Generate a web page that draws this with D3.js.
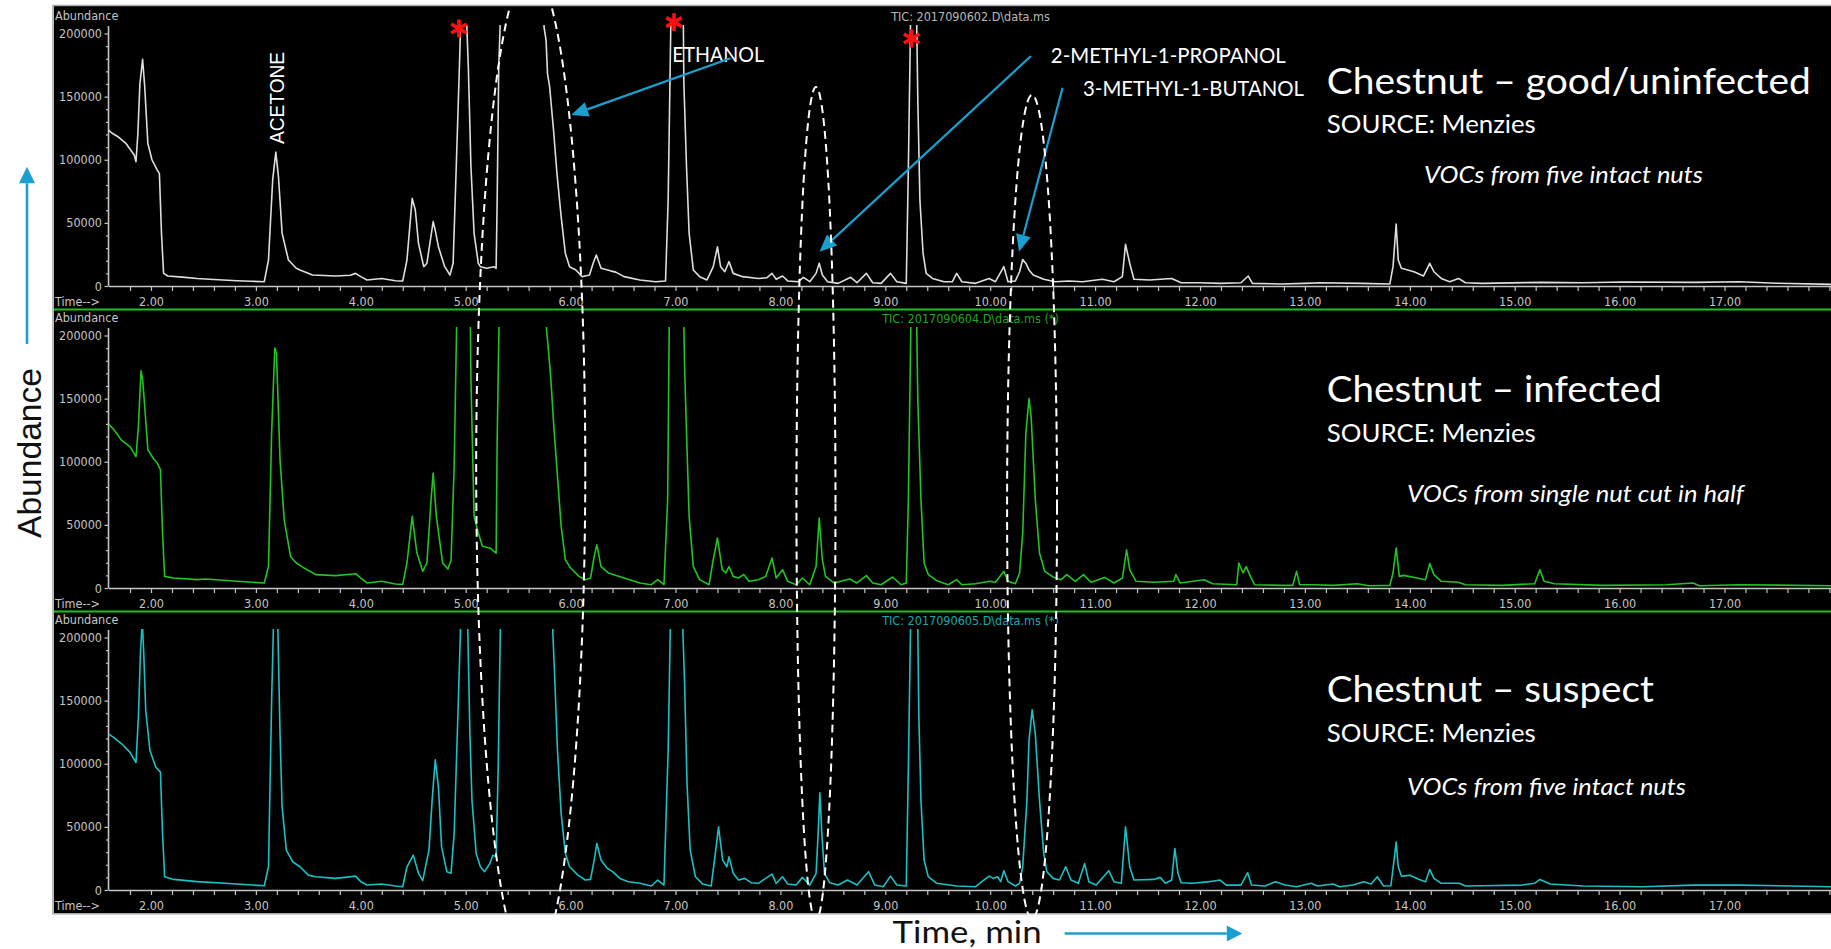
<!DOCTYPE html>
<html>
<head>
<meta charset="utf-8">
<title>Chestnut VOC chromatograms</title>
<script src="https://cdn.jsdelivr.net/npm/d3@7"></script>
<style>
  html, body { margin: 0; padding: 0; background: #fff; }
  svg { display: block; }
</style>
</head>
<body>
<svg id="chart" width="1831" height="949"></svg>
<script>
// ---------------- data ----------------
// Retention time (min) tick labels and abundance tick labels
const timeTicks = [2, 3, 4, 5, 6, 7, 8, 9, 10, 11, 12, 13, 14, 15, 16, 17];
const abundanceTicks = [0, 50000, 100000, 150000, 200000];

const runFiles = [
  "TIC: 2017090602.D\\data.ms",
  "TIC: 2017090604.D\\data.ms (*)",
  "TIC: 2017090605.D\\data.ms (*)"
];
const sampleTitles = ["Chestnut \u2013 good/uninfected", "Chestnut \u2013 infected", "Chestnut \u2013 suspect"];
const sampleSources = ["SOURCE: Menzies", "SOURCE: Menzies", "SOURCE: Menzies"];
const sampleNotes = ["VOCs from five intact nuts", "VOCs from single nut cut in half", "VOCs from five intact nuts"];

// Total ion chromatograms: [retention time (min), abundance]
const goodTrace = [
  [1.595,123500],[1.63,121000],[1.69,118000],[1.76,113000],[1.84,103700],[1.857,98400],[1.875,121000],[1.894,160000],[1.92,179500],[1.94,158000],[1.97,113000],[2.01,99800],[2.06,91800],[2.08,89000],[2.10,41700],[2.12,10000],[2.16,7900],[2.30,7000],[2.44,6000],[2.60,5200],[2.82,4200],[2.95,3800],[3.08,3400],
  [3.12,20600],[3.16,84000],[3.19,106000],[3.215,86600],[3.25,41700],[3.31,20600],[3.385,14000],[3.42,12700],[3.54,8700],[3.76,7900],[3.90,8500],[3.95,10000],[4.0,7400],[4.06,4800],[4.2,6000],[4.33,4200],[4.40,4000],
  [4.44,20600],[4.49,69400],[4.52,60000],[4.55,33800],[4.60,15300],[4.63,18000],[4.69,51000],[4.71,44000],[4.74,31000],[4.80,15300],[4.85,8700],[4.88,18000],[4.91,94500],[4.94,173600],[4.951,205000],[4.98,1500000],[5.011,205000],[5.025,173600],[5.05,94500],[5.08,41700],[5.12,18000],[5.14,15300],[5.20,14000],[5.27,15300],[5.29,14000],
  [5.30,68000],[5.315,173000],[5.328,205000],[5.54,5000000],[5.747,205000],[5.766,194800],[5.78,168000],[5.80,158000],[5.84,121000],[5.87,89000],[5.91,55000],[5.95,25900],[5.99,15300],[6.05,12700],[6.11,7400],[6.18,8700],[6.215,18000],[6.245,24500],[6.29,14000],[6.38,12000],[6.43,11000],[6.51,7400],[6.66,4800],[6.81,3400],[6.905,3900],
  [6.93,68000],[6.955,205000],[7.015,2000000],[7.075,205000],[7.08,160000],[7.105,94500],[7.13,41700],[7.17,12700],[7.23,7400],[7.30,4800],
  [7.36,15300],[7.40,31000],[7.43,15300],[7.47,11300],[7.51,19300],[7.55,10000],[7.64,7400],[7.79,6000],[7.87,6500],[7.92,10000],[7.96,5300],[8.02,7900],[8.07,4000],[8.17,3400],[8.22,6900],[8.28,3400],
  [8.34,10000],[8.37,18000],[8.40,8700],[8.45,3400],[8.55,2100],[8.67,6900],[8.73,2600],[8.82,10000],[8.88,2600],[8.96,2100],[9.05,10000],[9.11,3400],[9.20,2100],
  [9.22,94500],[9.24,205000],[9.27,3000000],[9.30,205000],[9.31,147000],[9.33,68000],[9.36,25900],[9.39,10000],[9.45,6000],[9.56,3400],[9.64,3400],[9.68,10000],[9.73,3400],[9.86,2100],[9.99,6000],[10.05,3400],[10.13,15300],[10.17,3400],[10.24,4000],
  [10.28,11300],[10.31,21000],[10.34,17900],[10.37,12700],[10.41,8700],[10.51,5300],[10.62,3400],[10.75,4000],[10.88,3400],[11.07,5300],[11.18,3400],[11.26,7400],[11.29,33000],[11.33,18000],[11.37,5300],[11.52,4800],[11.73,6000],[11.82,2600],[12.0,2600],[12.19,2100],[12.39,2600],[12.46,7900],[12.5,2100],[12.77,1600],[13.0,2100],[13.15,2600],[13.54,2100],[13.81,1600],
  [13.84,15300],[13.87,49000],[13.89,20600],[13.92,14000],[14.04,11300],[14.13,7900],[14.19,18000],[14.23,11300],[14.30,6000],[14.38,3400],[14.465,6000],[14.53,2600],[14.69,2100],[15.26,2900],[15.65,2600],[16.03,3200],[16.72,2900],[17.14,3400],[17.5,2200],[18.02,1300]
];

const infectedTrace = [
  [1.595,130000],[1.65,125000],[1.72,117000],[1.80,112000],[1.857,104000],[1.88,128000],[1.905,172000],[1.92,165000],[1.94,144000],[1.97,109500],[2.03,101600],[2.06,99000],[2.09,93700],[2.11,43500],[2.13,9200],[2.215,7900],[2.44,6600],[2.52,7100],[2.82,5300],[3.08,4000],
  [3.12,17000],[3.15,122700],[3.18,190000],[3.196,186000],[3.23,101600],[3.27,54000],[3.33,25000],[3.385,19800],[3.46,15800],[3.57,10600],[3.76,9800],[3.95,11300],[4.0,7900],[4.06,4000],[4.2,5300],[4.33,3200],[4.40,2900],
  [4.44,19800],[4.49,56700],[4.535,27700],[4.59,13200],[4.63,19800],[4.67,70000],[4.69,91000],[4.72,56700],[4.78,19800],[4.83,15000],[4.86,22000],[4.89,96000],[4.913,205000],[4.98,1200000],[5.045,205000],[5.05,165000],[5.08,56700],[5.12,43500],[5.16,33000],[5.23,31700],[5.29,27700],
  [5.30,117000],[5.317,205000],[5.54,6000000],[5.77,205000],[5.78,196600],[5.81,167600],[5.84,128000],[5.875,88400],[5.91,48800],[5.95,22400],[6.0,15800],[6.08,9200],[6.14,6600],[6.19,7900],[6.225,25000],[6.25,34300],[6.29,17000],[6.36,11900],[6.51,7900],[6.66,4000],[6.77,2600],[6.83,6600],[6.89,2600],
  [6.925,70000],[6.94,205000],[7.01,2500000],[7.08,205000],[7.087,175000],[7.105,122700],[7.13,56700],[7.17,17000],[7.23,6600],[7.32,2600],
  [7.36,22400],[7.40,39600],[7.445,14500],[7.48,11900],[7.51,17000],[7.55,9200],[7.60,7900],[7.65,10600],[7.70,5300],[7.79,6600],[7.86,9200],[7.92,23800],[7.96,7900],[8.02,14500],[8.07,5300],[8.15,2600],[8.21,7900],[8.28,2600],
  [8.34,17000],[8.37,55400],[8.40,22400],[8.43,9200],[8.51,4000],[8.66,7100],[8.73,4000],[8.82,9800],[8.88,4000],[8.96,2600],[9.07,8700],[9.15,2600],[9.20,4000],
  [9.22,70000],[9.243,205000],[9.27,3000000],[9.30,205000],[9.31,149000],[9.34,70000],[9.37,19800],[9.41,10600],[9.49,5800],[9.60,2600],[9.68,6600],[9.73,2600],[9.86,3400],[9.996,5300],[10.05,4500],[10.13,13200],[10.17,5300],[10.24,3400],
  [10.28,11900],[10.31,43500],[10.34,122700],[10.37,150000],[10.39,136000],[10.43,70000],[10.47,27700],[10.52,13200],[10.60,8700],[10.675,6600],[10.73,10600],[10.81,5300],[10.89,10600],[10.96,4500],[11.09,8400],[11.18,4000],[11.26,7900],[11.30,30300],[11.33,14500],[11.39,5300],[11.56,4500],[11.75,5300],[11.77,10600],[11.81,4000],[12.04,6600],[12.12,3400],[12.35,2600],
  [12.37,19800],[12.41,11900],[12.44,17000],[12.48,9200],[12.52,2600],[12.77,2100],[12.885,2100],[12.92,13200],[12.95,2600],[13.08,2600],[13.27,2100],[13.50,3400],[13.61,1800],[13.81,2100],
  [13.84,11900],[13.87,31700],[13.90,9200],[13.94,10000],[14.07,7900],[14.15,6600],[14.19,19300],[14.23,10600],[14.30,5300],[14.46,4500],[14.53,2600],[14.88,2100],[15.19,3400],[15.24,14500],[15.28,5300],[15.38,3400],[15.84,2100],[16.45,2600],[16.70,4000],[16.76,1800],[17.14,2600],[18.02,1800]
];

const suspectTrace = [
  [1.595,123700],[1.65,120500],[1.72,115800],[1.80,109000],[1.857,101000],[1.88,137000],[1.90,189500],[1.917,212000],[1.93,189500],[1.95,142000],[1.99,110500],[2.045,97400],[2.09,93400],[2.11,44700],[2.13,10500],[2.215,8400],[2.44,6600],[2.82,4700],[3.08,3400],
  [3.12,18400],[3.15,150000],[3.166,205000],[3.19,1000000],[3.21,205000],[3.23,123700],[3.25,65800],[3.29,31600],[3.35,22400],[3.42,18400],[3.50,11800],[3.57,10500],[3.76,9200],[3.95,11000],[4.0,6600],[4.06,4000],[4.2,4700],[4.33,3200],[4.40,2600],
  [4.44,18400],[4.50,27600],[4.55,13200],[4.59,7400],[4.65,31600],[4.68,71000],[4.71,103200],[4.74,81600],[4.77,34200],[4.82,14500],[4.86,13200],[4.89,44700],[4.93,150000],[4.95,205000],[4.985,2500000],[5.02,205000],[5.04,123700],[5.06,71000],[5.10,28900],[5.14,18400],[5.18,14500],[5.23,21000],[5.26,27600],[5.29,26300],
  [5.31,97400],[5.33,205000],[5.58,6000000],[5.83,205000],[5.845,176000],[5.875,110500],[5.91,60500],[5.95,29000],[5.99,18400],[6.07,11800],[6.14,7900],[6.19,8400],[6.225,23700],[6.25,36800],[6.29,23700],[6.35,17100],[6.40,14500],[6.47,9200],[6.55,6600],[6.66,5300],[6.77,3200],[6.83,7900],[6.89,3900],
  [6.93,110500],[6.95,205000],[7.01,2500000],[7.07,205000],[7.087,163000],[7.11,84000],[7.14,31600],[7.19,10500],[7.26,4700],[7.34,3200],
  [7.38,29000],[7.41,50000],[7.45,23700],[7.49,18400],[7.51,26300],[7.55,13200],[7.60,7900],[7.66,9200],[7.72,5800],[7.79,5300],[7.92,12600],[7.96,5300],[8.02,10500],[8.07,4700],[8.15,3900],[8.21,10000],[8.28,3900],
  [8.34,13200],[8.36,44700],[8.376,77000],[8.395,44700],[8.42,13200],[8.47,5800],[8.55,3900],[8.64,7900],[8.73,3900],[8.84,14500],[8.90,3900],[8.98,2600],[9.05,11000],[9.11,3900],[9.20,3200],
  [9.22,97400],[9.24,205000],[9.275,3000000],[9.31,205000],[9.32,137000],[9.34,71000],[9.37,23700],[9.41,10500],[9.49,5300],[9.68,3200],[9.86,2600],[9.92,6600],[9.99,11000],[10.03,9200],[10.07,10500],[10.10,6600],[10.13,15300],[10.17,6600],[10.24,3200],
  [10.28,5300],[10.31,18400],[10.35,71000],[10.37,118400],[10.40,142700],[10.43,123700],[10.47,71000],[10.51,29000],[10.54,14500],[10.60,9200],[10.66,7900],[10.72,18400],[10.77,7900],[10.84,5300],[10.90,21000],[10.94,6600],[11.01,3900],[11.13,15300],[11.18,6600],[11.25,5300],
  [11.29,50000],[11.33,18400],[11.37,7900],[11.56,8400],[11.62,10000],[11.67,5300],[11.73,7900],[11.76,32900],[11.79,13200],[11.82,5800],[11.93,5300],[12.09,6600],[12.19,7900],[12.25,3900],[12.39,3900],[12.455,13700],[12.49,3900],[12.62,3200],[12.72,6600],[12.81,3900],[12.92,2600],[13.06,5300],[13.12,3200],[13.27,4700],[13.33,2600],[13.46,3900],[13.56,6600],[13.63,4700],[13.69,10500],[13.75,3200],[13.82,3400],
  [13.85,23700],[13.87,37900],[13.89,18400],[13.92,11000],[14.0,11600],[14.09,8400],[14.15,6600],[14.19,16300],[14.23,9200],[14.30,5300],[14.47,5300],[14.53,3200],[14.69,3400],[15.07,3900],[15.19,5300],[15.24,8400],[15.34,4700],[15.65,3200],[16.22,2600],[16.70,3900],[17.14,3900],[18.02,2600]
];

// Compound annotations on the first run: [time, abundance] anchors
const compoundNames = ["ACETONE", "ETHANOL", "2-METHYL-1-PROPANOL", "3-METHYL-1-BUTANOL"];
const compoundLabelAt = [[3.268, 112500], [6.968, 177700], [10.578, 176400], [10.885, 150700]];
const compoundArrowFrom = [null, [7.524, 180400], [10.389, 182200], [10.69, 157000]];
const compoundArrowTo = [null, [6.006, 135400], [8.373, 27200], [10.275, 27200]];
// Peaks flagged with a red asterisk on the first run
const flaggedPeaks = [[4.936, 204000], [6.986, 209000], [9.251, 196000]];
// Retention-time windows circled across all three runs: [centre, half-width] in minutes
const circledWindows = [[5.62, 0.52], [8.339, 0.186], [10.399, 0.238]];

// ---------------- layout ----------------
const svg = d3.select("#chart");
const frame = { x0: 54, y0: 6, x1: 1831, y1: 913 };
const panelTops = [6, 308, 610];
const traceColors = ["#dedede", "#22c322", "#1cc0c4"];
const ticColors = ["#b8b8b8", "#1ea81e", "#17a8ae"];
const axisColor = "#c4c4c4";
const blue = "#1aa0cf";
const uiFont = "'Liberation Sans Narrow','Arial Narrow','DejaVu Sans Condensed',sans-serif";
const textFont = "Lato,'Open Sans',sans-serif";

const x = d3.scaleLinear().domain([2, 17]).range([151, 1724.5]);
const tStart = 1.595, tEnd = 18.02;
const xAxisScale = x.copy().domain([tStart, tEnd]).range([x(tStart), x(tEnd)]);
const yAxisX = x(tStart);

// white page, black instrument canvas with grey frame
svg.append("rect").attr("width", 1831).attr("height", 949).attr("fill", "#fff");
svg.append("rect")
  .attr("x", frame.x0).attr("y", frame.y0)
  .attr("width", frame.x1 - frame.x0).attr("height", frame.y1 - frame.y0)
  .attr("fill", "#000");
svg.append("path")
  .attr("d", `M${frame.x1},${frame.y0 - 0.5}H${frame.x0 - 1}V${frame.y1 + 0.8}H${frame.x1}`)
  .attr("fill", "none").attr("stroke", "#a9a9a9").attr("stroke-width", 1.6);

const traces = [goodTrace, infectedTrace, suspectTrace];

panelTops.forEach((T, i) => {
  const y = d3.scaleLinear().domain([0, 200000]).range([T + 280, T + 27.5]);
  const g = svg.append("g");

  // header texts
  g.append("text").attr("x", 55).attr("y", T + 14)
    .attr("font-family", uiFont).attr("font-size", 12.5).attr("fill", axisColor)
    .text("Abundance");
  g.append("text").attr("x", 970.5).attr("y", T + 15)
    .attr("text-anchor", "middle")
    .attr("font-family", uiFont).attr("font-size", 12.5).attr("fill", ticColors[i])
    .text(runFiles[i]);

  // y axis
  const yAxis = d3.axisLeft(y)
    .tickValues(d3.range(0, 200001, 10000))
    .tickSize(4).tickSizeOuter(0).tickPadding(2.5)
    .tickFormat(v => (v % 50000 === 0 && abundanceTicks.includes(v)) ? String(v) : "");
  const ya = g.append("g").attr("transform", `translate(${yAxisX},0)`).call(yAxis);
  ya.select(".domain").remove();
  ya.selectAll(".tick line").attr("stroke", axisColor).attr("stroke-width", 1.2)
    .attr("x2", v => v % 50000 === 0 ? -4 : -2.5);
  ya.selectAll(".tick text").attr("fill", axisColor)
    .attr("font-family", uiFont).attr("font-size", 12.5);
  g.append("line").attr("x1", yAxisX).attr("x2", yAxisX)
    .attr("y1", T + 20).attr("y2", T + 280)
    .attr("stroke", axisColor).attr("stroke-width", 1.6);

  // x axis
  const minorTimes = d3.range(9, 91).map(k => k / 5);
  const xAxis = d3.axisBottom(xAxisScale)
    .tickValues(minorTimes).tickSize(5).tickSizeOuter(0).tickPadding(6)
    .tickFormat(t => timeTicks.includes(Math.round(t)) && Math.abs(t - Math.round(t)) < 1e-6 ? d3.format(".2f")(t) : "");
  const xa = g.append("g").attr("transform", `translate(0,${T + 280})`).call(xAxis);
  xa.select(".domain").attr("stroke", axisColor).attr("stroke-width", 1.6);
  xa.selectAll(".tick line").attr("stroke", axisColor).attr("stroke-width", 1.2);
  xa.selectAll(".tick text").attr("fill", axisColor)
    .attr("font-family", uiFont).attr("font-size", 12.5);
  g.append("text").attr("x", 55).attr("y", T + 299.5)
    .attr("font-family", uiFont).attr("font-size", 12.5).attr("fill", axisColor)
    .text("Time-->");

  // chromatogram trace
  const clipId = "clip" + i;
  svg.append("clipPath").attr("id", clipId).append("rect")
    .attr("x", yAxisX).attr("y", T + 19)
    .attr("width", frame.x1 - yAxisX).attr("height", 275);
  g.append("path")
    .datum(traces[i])
    .attr("clip-path", `url(#${clipId})`)
    .attr("fill", "none")
    .attr("stroke", traceColors[i])
    .attr("stroke-width", 1.6)
    .attr("stroke-linejoin", "round")
    .attr("d", d3.line().x(d => x(d[0])).y(d => y(d[1])));

  // sample description
  const titleBase = [93.5, 401.7, 701.7][i];
  const sourceBase = [133, 441.5, 741.5][i];
  const noteBase = [183, 501.7, 795][i];
  const noteX = [1424, 1407, 1407][i];
  const titleLen = [484, 335, 327][i];
  const noteLen = [279, 337, 279][i];
  g.append("text").attr("x", 1326.8).attr("y", titleBase)
    .attr("font-family", textFont).attr("font-size", 37).attr("fill", "#fff")
    .attr("textLength", titleLen).attr("lengthAdjust", "spacingAndGlyphs")
    .text(sampleTitles[i]);
  g.append("text").attr("x", 1326.8).attr("y", sourceBase)
    .attr("font-family", textFont).attr("font-size", 25.5).attr("fill", "#fff")
    .attr("textLength", 209).attr("lengthAdjust", "spacingAndGlyphs")
    .text(sampleSources[i]);
  g.append("text").attr("x", noteX).attr("y", noteBase)
    .attr("font-family", textFont).attr("font-style", "italic").attr("font-size", 24)
    .attr("fill", "#fff")
    .attr("textLength", noteLen).attr("lengthAdjust", "spacingAndGlyphs")
    .text(sampleNotes[i]);

  // separator to the next run
  if (i < panelTops.length - 1) {
    svg.append("line").attr("x1", frame.x0).attr("x2", frame.x1)
      .attr("y1", T + 303.5).attr("y2", T + 303.5)
      .attr("stroke", "#1ec01e").attr("stroke-width", 1.8);
  }
});

// ---------------- annotations on the first run ----------------
const y0 = d3.scaleLinear().domain([0, 200000]).range([panelTops[0] + 280, panelTops[0] + 27.5]);
const ann = svg.append("g");

function arrow(sel, x1, y1, x2, y2, color, width, headLen, headHalf) {
  const ang = Math.atan2(y2 - y1, x2 - x1);
  const bx = x2 - headLen * Math.cos(ang), by = y2 - headLen * Math.sin(ang);
  sel.append("line").attr("x1", x1).attr("y1", y1).attr("x2", bx).attr("y2", by)
    .attr("stroke", color).attr("stroke-width", width);
  const nx = -Math.sin(ang) * headHalf, ny = Math.cos(ang) * headHalf;
  sel.append("path")
    .attr("d", `M${x2},${y2}L${bx + nx},${by + ny}L${bx - nx},${by - ny}Z`)
    .attr("fill", color);
}

compoundNames.forEach((name, k) => {
  const [lt, lv] = compoundLabelAt[k];
  if (k === 0) {
    ann.append("text")
      .attr("transform", `translate(${x(lt)},${y0(lv)}) rotate(-90)`)
      .attr("font-family", "'Liberation Sans',Arial,sans-serif").attr("font-size", 21)
      .attr("fill", "#fff")
      .attr("textLength", 92).attr("lengthAdjust", "spacingAndGlyphs")
      .text(name);
  } else {
    const len = [0, 92, 235, 221][k];
    ann.append("text").attr("x", x(lt)).attr("y", y0(lv))
      .attr("font-family", textFont).attr("font-size", 21).attr("fill", "#fff")
      .attr("textLength", len).attr("lengthAdjust", "spacingAndGlyphs")
      .text(name);
    const [ft, fv] = compoundArrowFrom[k];
    const [tt, tv] = compoundArrowTo[k];
    arrow(ann, x(ft), y0(fv), x(tt), y0(tv), blue, 2.2, 17, 7.5);
  }
});

// red asterisks on flagged peaks
flaggedPeaks.forEach(([t, v]) => {
  const cx = x(t), cy = y0(v), r = 9;
  const p = d3.path();
  [90, 30, 150].forEach(a => {
    const rad = a * Math.PI / 180;
    p.moveTo(cx + r * Math.cos(rad), cy - r * Math.sin(rad));
    p.lineTo(cx - r * Math.cos(rad), cy + r * Math.sin(rad));
  });
  ann.append("path").attr("d", p.toString())
    .attr("stroke", "#ff1010").attr("stroke-width", 3.6).attr("fill", "none");
});

// dashed ellipses marking retention-time windows across all runs
const windowSpans = [[-31, 968], [87, 920], [95, 919]];
svg.append("clipPath").attr("id", "ellipseClip").append("rect")
  .attr("x", 0).attr("y", frame.y0 + 0.5).attr("width", 1831).attr("height", 949);
circledWindows.forEach(([t, half], k) => {
  const [top, bottom] = windowSpans[k];
  svg.append("ellipse")
    .attr("clip-path", "url(#ellipseClip)")
    .attr("cx", x(t)).attr("cy", (top + bottom) / 2)
    .attr("rx", x(t + half) - x(t)).attr("ry", (bottom - top) / 2)
    .attr("fill", "none").attr("stroke", "#fff").attr("stroke-width", 2)
    .attr("stroke-dasharray", "8,5");
});

// outer axis titles
svg.append("text")
  .attr("transform", "translate(40.5,538) rotate(-90)")
  .attr("font-family", "'Liberation Sans',Arial,sans-serif").attr("font-size", 34)
  .attr("fill", "#111")
  .attr("textLength", 170).attr("lengthAdjust", "spacingAndGlyphs")
  .text("Abundance");
arrow(svg, 27, 344, 27, 166.7, blue, 2.6, 16.5, 8);

svg.append("text").attr("x", 892.6).attr("y", 943.3)
  .attr("font-family", textFont).attr("font-size", 30).attr("fill", "#111")
  .attr("textLength", 149).attr("lengthAdjust", "spacingAndGlyphs")
  .text("Time, min");
arrow(svg, 1064.6, 933.5, 1242.3, 933.5, blue, 2.6, 15.5, 8);
</script>
</body>
</html>
